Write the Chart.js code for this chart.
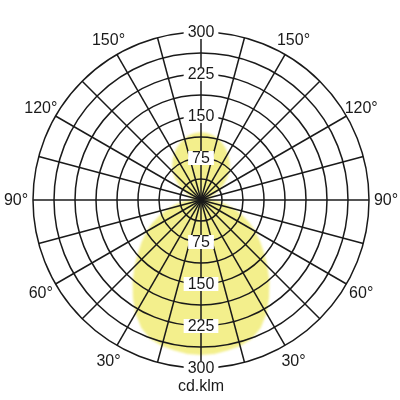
<!DOCTYPE html>
<html lang="en">
<head>
    <meta charset="UTF-8">
    <title>Polar light distribution</title>
    <script src="https://cdn.jsdelivr.net/npm/chart.js"></script>
    <style>
      body { margin: 0; background: #fff; }
      canvas { display: block; }
    </style>
</head>
<body>
<canvas id="polarChart" width="400" height="400"></canvas>

<script>
    // photometric angle (0 = straight down, 180 = straight up), every 5 degrees
    const gammaDeg = [0, 5, 10, 15, 20, 25, 30, 35, 40, 45, 50, 55, 60, 65, 70, 75, 80, 85, 90,
                      95, 100, 105, 110, 115, 120, 125, 130, 135, 140, 145, 150, 155, 160, 165, 170, 175, 180];
    // luminous intensity, cd/klm
    const intensity = [277, 276, 273, 270, 264, 252, 234, 212, 190, 168, 147, 129, 112, 95, 78, 62, 46, 32, 22,
                       16, 15, 17, 22, 30, 40, 50, 61, 71, 80, 88, 96, 103, 109, 114, 118, 120, 121];
    const angleTicks = [30, 60, 90, 120, 150];
    const ringTicks = [75, 150, 225, 300];
    const unitLabel = 'cd.klm';

    const lineColor = '#1a1a1a';
    const textColor = '#1a1a1a';
    const fillColor = '#f3ef8c';
    const font = '16px "Liberation Sans", Arial, sans-serif';

    // radar goes clockwise from the top (gamma 180) round to the top again
    const labels = [];
    const values = [];
    for (let i = 0; i < 72; i++) {
      const g = Math.abs(180 - i * 5);
      labels.push(g);
      values.push(intensity[gammaDeg.indexOf(g)]);
    }

    const softFill = {
      id: 'softFill',
      beforeDatasetsDraw(chart) {
        chart.ctx.save();
        chart.ctx.filter = 'blur(1px)';
      },
      afterDatasetsDraw(chart) {
        chart.ctx.restore();
      }
    };

    const polarText = {
      id: 'polarText',
      afterDraw(chart) {
        const ctx = chart.ctx;
        const scale = chart.scales.r;
        const cx = scale.xCenter;
        const cy = scale.yCenter;
        ctx.save();
        ctx.font = font;
        ctx.fillStyle = textColor;
        ctx.textAlign = 'center';
        ctx.textBaseline = 'middle';

        // ring values above and below the centre
        ringTicks.forEach(v => {
          const d = scale.getDistanceFromCenterForValue(v);
          const w = ctx.measureText(String(v)).width + 8;
          [cy - d, cy + d].forEach(y => {
            ctx.fillStyle = '#fff';
            ctx.fillRect(cx - w / 2, y - 7, w, 14);
            ctx.fillStyle = textColor;
            ctx.fillText(String(v), cx, y + 1);
          });
        });

        // angle labels outside the circle
        labels.forEach((g, i) => {
          if (!angleTicks.includes(g)) return;
          const p = scale.getPointPosition(i, scale.drawingArea + 17);
          ctx.fillText(g + '°', p.x, p.y + 1);
        });

        ctx.textBaseline = 'alphabetic';
        ctx.fillText(unitLabel, cx, 391);
        ctx.restore();
      }
    };

    new Chart(document.getElementById('polarChart'), {
      type: 'radar',
      data: {
        labels: labels,
        datasets: [{
          data: values,
          backgroundColor: fillColor,
          borderWidth: 0,
          pointRadius: 0,
          fill: true
        }]
      },
      options: {
        responsive: false,
        animation: false,
        layout: {
          padding: { left: 33, right: 31, top: 32, bottom: 32 }
        },
        plugins: {
          legend: { display: false },
          tooltip: { enabled: false }
        },
        elements: {
          line: { tension: 0 }
        },
        scales: {
          r: {
            z: 1,
            min: 0,
            max: 300,
            ticks: { stepSize: 37.5, display: false, z: 1 },
            pointLabels: { display: false },
            grid: {
              z: 1,
              circular: true,
              color: lineColor,
              lineWidth: 1.5
            },
            angleLines: {
              color: ctx => (ctx.index % 3 === 0 ? lineColor : 'transparent'),
              lineWidth: 1.5
            }
          }
        }
      },
      plugins: [softFill, polarText]
    });
</script>
</body>
</html>
